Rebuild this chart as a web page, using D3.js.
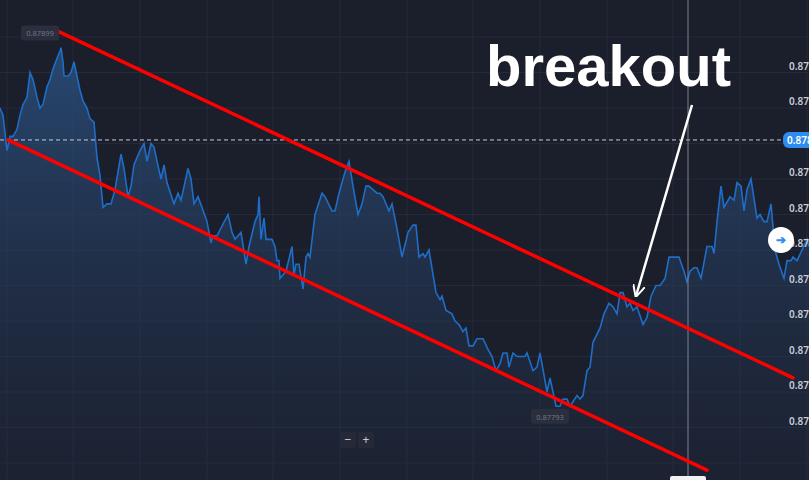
<!DOCTYPE html>
<html>
<head>
<meta charset="utf-8">
<script src="https://cdn.jsdelivr.net/npm/d3@7"></script>
<style>
  body { margin: 0; background: #1b1e2b; overflow: hidden; }
  svg { display: block; font-family: "Noto Sans", sans-serif; }
</style>
</head>
<body>
<svg id="chart" width="809" height="480"></svg>
<script>
var width = 809, height = 480

// tick time (chart units) and price
var times = [0,3,7,10,13,17,20,23,27,30,33,37,40,43,47,50,53,57,60,61,63,64,68,71,74,77,80,83,87,90,94,97,100,103,107,111,115,121,124,128,131,134,140,144,147,151,154,157,161,164,167,174,178,181,188,191,194,198,202,207,211,213,217,228,232,235,241,246,249,255,258,259,261,264,266,272,275,277,279,280,283,286,292,294,296,299,303,306,308,310,315,322,325,332,335,339,345,349,353,358,362,366,369,373,377,380,383,389,392,397,402,408,413,416,419,423,425,429,436,440,442,446,452,455,459,463,466,469,473,477,483,488,492,496,500,503,507,509,513,517,525,527,533,537,540,547,550,556,560,563,567,570,577,580,583,587,590,593,600,604,609,613,617,620,623,627,630,633,637,643,647,651,656,660,665,669,675,679,684,687,690,694,697,701,707,712,714,717,721,724,730,734,737,741,744,747,751,757,760,764,767,771,775,779,784,787,791,793,797,802,807,809]
var prices = [0.87880,0.87878,0.87868,0.87872,0.87872,0.87874,0.87878,0.87881,0.87883,0.87890,0.87888,0.87883,0.87880,0.87881,0.87886,0.87888,0.87891,0.87894,0.87896,0.87897,0.87893,0.87889,0.87889,0.87890,0.87893,0.87889,0.87885,0.87882,0.87880,0.87877,0.87876,0.87866,0.87861,0.87852,0.87853,0.87853,0.87857,0.87867,0.87863,0.87855,0.87858,0.87864,0.87868,0.87870,0.87865,0.87870,0.87869,0.87865,0.87860,0.87864,0.87859,0.87853,0.87856,0.87854,0.87863,0.87860,0.87853,0.87855,0.87852,0.87848,0.87842,0.87844,0.87844,0.87850,0.87845,0.87843,0.87845,0.87836,0.87841,0.87848,0.87850,0.87855,0.87843,0.87849,0.87843,0.87843,0.87841,0.87837,0.87837,0.87832,0.87833,0.87834,0.87841,0.87833,0.87836,0.87836,0.87829,0.87838,0.87839,0.87838,0.87850,0.87856,0.87855,0.87851,0.87851,0.87856,0.87862,0.87865,0.87858,0.87850,0.87853,0.87858,0.87858,0.87857,0.87856,0.87856,0.87855,0.87851,0.87853,0.87846,0.87838,0.87845,0.87847,0.87847,0.87838,0.87839,0.87838,0.87840,0.87828,0.87826,0.87827,0.87823,0.87822,0.87820,0.87819,0.87817,0.87818,0.87813,0.87813,0.87815,0.87815,0.87812,0.87810,0.87806,0.87808,0.87811,0.87811,0.87807,0.87811,0.87810,0.87810,0.87811,0.87806,0.87807,0.87811,0.87800,0.87804,0.87796,0.87796,0.87798,0.87798,0.87796,0.87799,0.87798,0.87799,0.87806,0.87807,0.87814,0.87818,0.87822,0.87825,0.87824,0.87822,0.87828,0.87828,0.87824,0.87825,0.87823,0.87824,0.87819,0.87821,0.87827,0.87830,0.87830,0.87832,0.87838,0.87838,0.87838,0.87834,0.87831,0.87834,0.87835,0.87835,0.87832,0.87841,0.87841,0.87839,0.87848,0.87858,0.87852,0.87855,0.87854,0.87859,0.87858,0.87851,0.87857,0.87860,0.87849,0.87850,0.87848,0.87848,0.87853,0.87840,0.87836,0.87832,0.87837,0.87837,0.87838,0.87837,0.87840,0.87843,0.87841]
var tickValues = [0.8790,0.8789,0.8788,0.8787,0.8786,0.8785,0.8784,0.8783,0.8782,0.8781,0.8780,0.8779,0.8778]
var gridTimes = [7,73,140,207,273,340,407,473,540,607,673,740,807]
// channel lines: [time, price] ends
var upperLine = [[55,0.87902],[793,0.87804]]
var lowerLine = [[8,0.87871],[707,0.87778]]
var currentPrice = 0.87871
var crossTime = 688
var maxTag = [21, 0.87901, "0.87899"]
var minTag = [531, 0.87793, "0.87793"]

var svg = d3.select("#chart")
var x = d3.scaleLinear().domain([0, 809]).range([0, width])
var y = d3.scaleLinear().domain([0.8777, 0.8790]).range([37 + 35.5 * 13, 37])

svg.append("rect").attr("width", width).attr("height", height).attr("fill", "#1b1e2b")

// grid
svg.append("g").selectAll("line").data(tickValues).join("line")
  .attr("x1", 0).attr("x2", width).attr("y1", d => y(d)).attr("y2", d => y(d))
  .attr("stroke", "#262a3a").attr("stroke-width", 1)
svg.append("g").selectAll("line").data(gridTimes).join("line")
  .attr("x1", d => x(d)).attr("x2", d => x(d)).attr("y1", 0).attr("y2", height)
  .attr("stroke", "#262a3a").attr("stroke-width", 1)

// area + line
var data = times.map((t, i) => ({ t: t, p: prices[i] }))
var defs = svg.append("defs")
var grad = defs.append("linearGradient").attr("id", "fillg")
  .attr("x1", 0).attr("x2", 0).attr("y1", 0).attr("y2", 1)
grad.append("stop").attr("offset", "0%").attr("stop-color", "#2a4f7d").attr("stop-opacity", 0.85)
grad.append("stop").attr("offset", "100%").attr("stop-color", "#1f2a40").attr("stop-opacity", 0.3)

svg.append("path").datum(data)
  .attr("d", d3.area().x(d => x(d.t)).y0(height).y1(d => y(d.p)))
  .attr("fill", "url(#fillg)")
svg.append("path").datum(data)
  .attr("d", d3.line().x(d => x(d.t)).y(d => y(d.p)))
  .attr("fill", "none").attr("stroke", "#1e6ec8").attr("stroke-width", 1.6)

// current price dashed line
svg.append("line").attr("x1", 0).attr("x2", 782).attr("y1", y(currentPrice)).attr("y2", y(currentPrice))
  .attr("stroke", "#c8ccd6").attr("stroke-dasharray", "4,3").attr("stroke-width", 1)

// crosshair
svg.append("line").attr("x1", x(crossTime)).attr("x2", x(crossTime)).attr("y1", 0).attr("y2", height)
  .attr("stroke", "#7c8194").attr("stroke-width", 1)
svg.append("rect").attr("x", x(crossTime) - 18).attr("y", 476).attr("width", 36).attr("height", 8)
  .attr("rx", 2).attr("fill", "#f2f2f2")

// y labels (the one under the price badge is hidden)
svg.append("g").selectAll("text")
  .data(tickValues.slice(1, 12).filter(d => Math.abs(y(d) - y(currentPrice)) > 10)).join("text")
  .attr("x", 789).attr("y", d => y(d) - 3)
  .attr("fill", "#c9ccd6").attr("font-size", 10).attr("font-weight", 600)
  .text(d => d.toFixed(4))

// current price badge
svg.append("rect").attr("x", 783).attr("y", y(currentPrice) - 8).attr("width", 40).attr("height", 16)
  .attr("rx", 6).attr("fill", "#2d8cf0")
svg.append("text").attr("x", 787).attr("y", y(currentPrice) + 4)
  .attr("fill", "#fff").attr("font-size", 10).attr("font-weight", 600).text(currentPrice.toFixed(5))

// channel lines
;[upperLine, lowerLine].forEach(l => {
  svg.append("line")
    .attr("x1", x(l[0][0])).attr("y1", y(l[0][1])).attr("x2", x(l[1][0])).attr("y2", y(l[1][1]))
    .attr("stroke", "#ff0000").attr("stroke-width", 3.5).attr("stroke-linecap", "round")
})

// max/min labels
function tag(t, p, txt) {
  svg.append("rect").attr("x", x(t)).attr("y", y(p) - 8).attr("width", 38).attr("height", 15)
    .attr("rx", 3).attr("fill", "#2a2e3d")
  svg.append("text").attr("x", x(t) + 19).attr("y", y(p) + 3).attr("text-anchor", "middle")
    .attr("fill", "#6f7485").attr("font-size", 7.5).text(txt)
}
tag(maxTag[0], maxTag[1], maxTag[2])
tag(minTag[0], minTag[1], minTag[2])

// zoom buttons
;["−", "+"].forEach((s, i) => {
  svg.append("rect").attr("x", 340 + i * 18).attr("y", 432).attr("width", 16).attr("height", 16)
    .attr("rx", 2).attr("fill", "#252938")
  svg.append("text").attr("x", 348 + i * 18).attr("y", 444).attr("text-anchor", "middle")
    .attr("fill", "#c9ccd6").attr("font-size", 12).text(s)
})

// white scroll button
svg.append("circle").attr("cx", 781).attr("cy", 240).attr("r", 13).attr("fill", "#ffffff")
svg.append("text").attr("x", 781).attr("y", 244).attr("text-anchor", "middle")
  .attr("fill", "#2d8cf0").attr("font-size", 12).attr("font-weight", 700).text("➔")

// annotation
defs.append("marker").attr("id", "arr").attr("viewBox", "0 0 10 10").attr("refX", 9).attr("refY", 5)
  .attr("markerWidth", 5).attr("markerHeight", 5).attr("orient", "auto")
  .append("path").attr("d", "M0,0 L10,5 L0,10").attr("fill", "none").attr("stroke", "#fff").attr("stroke-width", 1.6)
svg.append("line").attr("x1", 692).attr("y1", 105).attr("x2", 636).attr("y2", 296)
  .attr("stroke", "#fff").attr("stroke-width", 2.5).attr("marker-end", "url(#arr)")
svg.append("text").attr("x", 486).attr("y", 86)
  .attr("fill", "#fff").attr("font-family", "Liberation Sans, Arial, sans-serif")
  .attr("font-weight", 700).attr("font-size", 58).text("breakout")
</script>
</body>
</html>
